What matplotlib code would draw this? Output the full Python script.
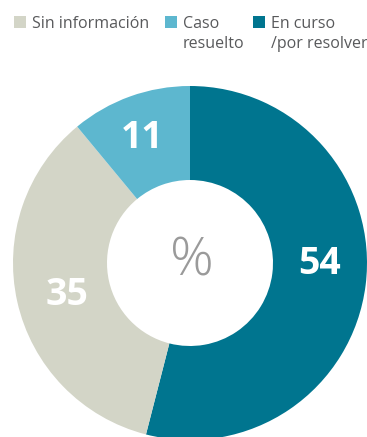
import matplotlib.pyplot as plt

# Case status shares (percent)
labels = ["En curso\n/por resolver", "Sin información", "Caso\nresuelto"]
values = [54, 35, 11]
colors = ["#00758F", "#D3D5C7", "#5DB7CF"]

# Legend order as printed above the ring
legend_labels = ["Sin información", "Caso\nresuelto", "En curso\n/por resolver"]
legend_colors = ["#D3D5C7", "#5DB7CF", "#00758F"]

W, H = 367, 437
fig = plt.figure(figsize=(W / 100, H / 100), dpi=100)
ax = fig.add_axes([0, 0, 1, 1])

cx, cy = 190, H - 263
R, r = 177, 83

wedges, _ = ax.pie(values, colors=colors, startangle=90, counterclock=False,
                   center=(cx, cy), radius=R, frame=True,
                   wedgeprops=dict(width=R - r, linewidth=0))

# value labels inside the ring
label_pos = [(320, 264), (67, 295), (142, 138)]
for v, (x, y) in zip(values, label_pos):
    ax.text(x, H - y, str(v), color="white", fontsize=27, fontweight="bold",
            family="Open Sans", ha="center", va="center")

ax.text(192, H - 262, "%", color="#9A9A9A", fontsize=39, fontweight="light",
        family="Open Sans", ha="center", va="center")

# legend: small squares with text, each line placed on its own baseline
leg_x = [14, 165, 253]
for x, lab, col in zip(leg_x, legend_labels, legend_colors):
    ax.add_patch(plt.Rectangle((x, H - 28), 12, 12, color=col, lw=0))
    for i, line in enumerate(lab.split("\n")):
        ax.text(x + 18, H - 28 - 20 * i, line, color="#58595B", fontsize=11.5,
                family="Open Sans", ha="left", va="baseline")

ax.set_xlim(0, W)
ax.set_ylim(0, H)
ax.set_aspect("equal")
ax.axis("off")

fig.savefig("out.png", dpi=100)
